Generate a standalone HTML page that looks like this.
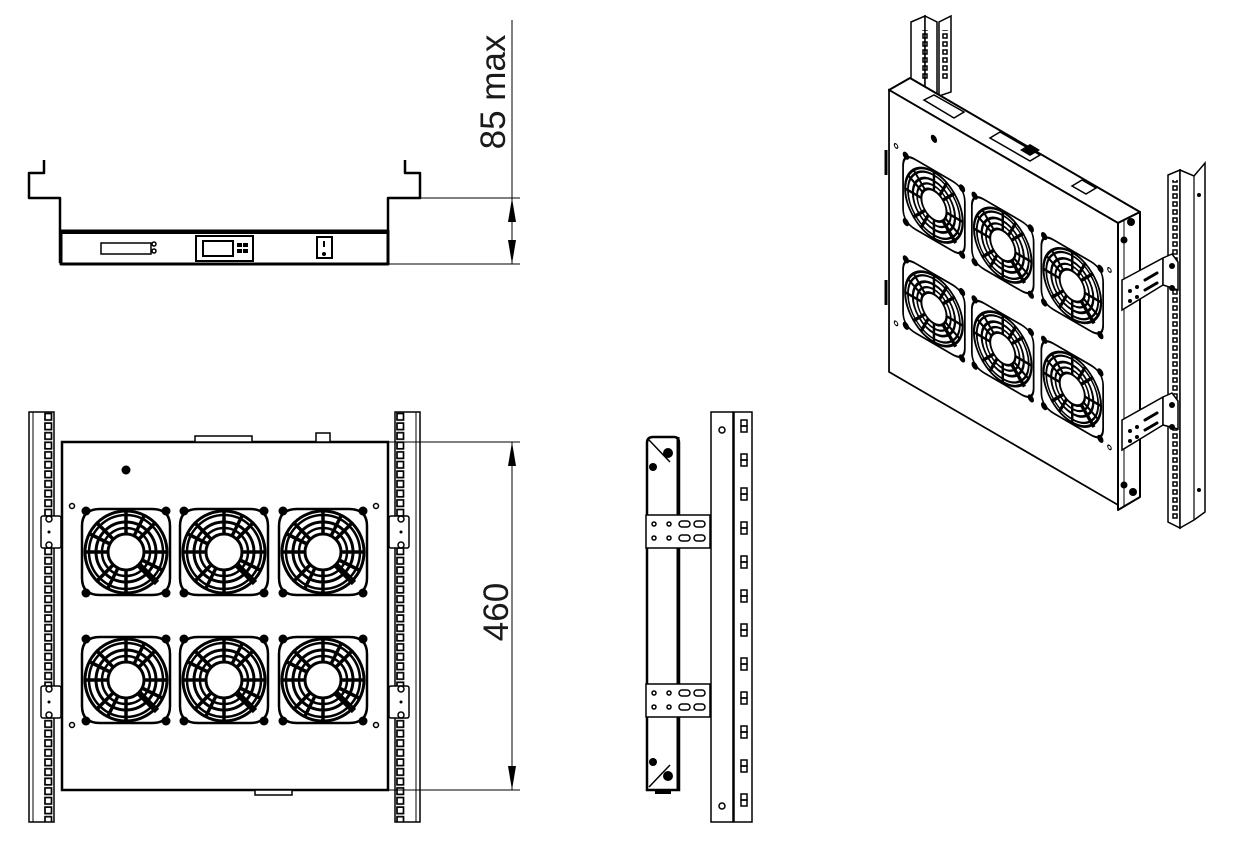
<!DOCTYPE html>
<html><head><meta charset="utf-8"><style>
html,body{margin:0;padding:0;background:#fff;}
svg{display:block;}
text{font-family:"Liberation Sans",sans-serif;fill:#1a1a1a;}
</style></head><body>
<svg width="1236" height="860" viewBox="0 0 1236 860" xmlns="http://www.w3.org/2000/svg">
<defs>
  <pattern id="holesL" x="44" y="412" width="10" height="9.6" patternUnits="userSpaceOnUse">
    <rect x="1" y="1.5" width="6.5" height="6.5" fill="none" stroke="#000" stroke-width="1.7"/>
  </pattern>
  <pattern id="holesR" x="396" y="412" width="10" height="9.6" patternUnits="userSpaceOnUse">
    <rect x="1" y="1.5" width="6.5" height="6.5" fill="none" stroke="#000" stroke-width="1.7"/>
  </pattern>
  <pattern id="holesS" x="739" y="412" width="10" height="34" patternUnits="userSpaceOnUse">
    <rect x="2" y="8" width="6" height="6" fill="none" stroke="#000" stroke-width="1.5"/>
    <rect x="2" y="14" width="6" height="6" fill="none" stroke="#000" stroke-width="1.5"/>
  </pattern>
  <pattern id="holesI" x="0" y="0" width="10" height="8" patternUnits="userSpaceOnUse">
    <rect x="3" y="2" width="4" height="4" fill="none" stroke="#000" stroke-width="1.5"/>
  </pattern>
  <g id="fan">
    <path d="M-26,-43 L26,-43 Q44,-43 44,-26 L44,26 Q44,43 26,43 L-26,43 Q-44,43 -44,26 L-44,-26 Q-44,-43 -26,-43 Z" fill="#fff" stroke="#000" stroke-width="2.5"/>
    <circle r="41" fill="none" stroke="#000" stroke-width="3"/>
    <circle r="37" fill="none" stroke="#000" stroke-width="2.5"/>
    <circle r="30" fill="none" stroke="#000" stroke-width="3"/>
    <circle r="24" fill="none" stroke="#000" stroke-width="2.5"/>
    <g stroke="#000" stroke-width="3.5">
      <line x1="0" y1="-42" x2="0" y2="-18"/><line x1="0" y1="42" x2="0" y2="18"/>
      <line x1="-42" y1="0" x2="-18" y2="0"/><line x1="42" y1="0" x2="18" y2="0"/>
      <line x1="-30" y1="-30" x2="-13" y2="-13"/><line x1="30" y1="-30" x2="13" y2="-13"/>
      <line x1="-30" y1="30" x2="-13" y2="13"/>
      <line x1="-36" y1="-18" x2="-16" y2="-8"/><line x1="36" y1="18" x2="16" y2="8"/>
      <line x1="-18" y1="36" x2="-8" y2="16"/><line x1="18" y1="-36" x2="8" y2="-16"/>
    </g>
    <line x1="13" y1="13" x2="31" y2="31" stroke="#000" stroke-width="6"/>
    <circle r="18" fill="#fff" stroke="#000" stroke-width="3"/>
    <circle cx="-40" cy="-41" r="4.5" fill="#000"/><circle cx="40" cy="-41" r="4.5" fill="#000"/>
    <circle cx="-40" cy="41" r="4.5" fill="#000"/><circle cx="40" cy="41" r="4.5" fill="#000"/>
  </g>
  <g id="body">
    <rect x="62" y="442" width="326" height="348" fill="#fff" stroke="#000" stroke-width="2.5"/>
    <use href="#fan" x="126" y="552"/><use href="#fan" x="224" y="552"/><use href="#fan" x="323" y="552"/>
    <use href="#fan" x="126" y="680"/><use href="#fan" x="224" y="680"/><use href="#fan" x="323" y="680"/>
    <circle cx="126" cy="470" r="4.5" fill="#000"/>
    <g fill="none" stroke="#000" stroke-width="1.5">
      <circle cx="72" cy="506" r="2.5"/><circle cx="376" cy="506" r="2.5"/>
      <circle cx="72" cy="725" r="2.5"/><circle cx="376" cy="725" r="2.5"/>
    </g>
  </g>
</defs>

<!-- ===== TOP VIEW ===== -->
<g fill="none" stroke="#000" stroke-width="2.5" stroke-linejoin="round">
  <path d="M44,160 V173 H29 V198 H60 V263"/>
  <path d="M405,160 V173 H420 V198 H388 V263"/>
  <rect x="61" y="231" width="327" height="33" fill="#fff" stroke-width="3"/>
  <line x1="61" y1="233" x2="388" y2="233" stroke-width="2"/>
</g>
<g fill="none" stroke="#000" stroke-width="1.5">
  <rect x="101" y="243" width="50" height="11"/>
  <circle cx="154" cy="244" r="2"/><circle cx="154" cy="251" r="2"/>
  <rect x="196" y="236" width="57" height="25" stroke-width="2"/>
  <rect x="203" y="241" width="30" height="15" stroke-width="2"/>
  <rect x="317" y="237" width="15" height="21" stroke-width="2"/>
</g>
<g fill="#000">
  <rect x="237" y="243" width="5" height="4"/><rect x="243" y="243" width="5" height="4"/>
  <rect x="237" y="249" width="5" height="4"/><rect x="243" y="249" width="5" height="4"/>
  <circle cx="324" cy="254" r="2"/><rect x="323" y="241" width="2" height="6"/>
</g>
<g stroke="#000" stroke-width="1">
  <line x1="420" y1="198" x2="520" y2="198"/>
  <line x1="388" y1="264" x2="520" y2="264"/>
  <line x1="512" y1="20" x2="512" y2="264"/>
</g>
<path d="M512,198 L508,222 L516,222 Z M512,264 L508,240 L516,240 Z" fill="#000"/>
<text transform="translate(505,92) rotate(-90)" font-size="35" text-anchor="middle">85 max</text>

<!-- ===== FRONT VIEW ===== -->
<rect x="29" y="412" width="25" height="410" fill="#fff" stroke="#000" stroke-width="1.5"/>
<line x1="33" y1="412" x2="33" y2="822" stroke="#000" stroke-width="1"/>
<rect x="44" y="412" width="9" height="410" fill="url(#holesL)"/>
<rect x="395" y="412" width="25" height="410" fill="#fff" stroke="#000" stroke-width="1.5"/>
<line x1="416" y1="412" x2="416" y2="822" stroke="#000" stroke-width="1"/>
<rect x="396" y="412" width="9" height="410" fill="url(#holesR)"/>
<use href="#body"/>
<g fill="#fff" stroke="#000" stroke-width="1.5">
  <rect x="41" y="516" width="20" height="32" rx="2"/><rect x="41" y="686" width="20" height="32" rx="2"/>
  <rect x="389" y="516" width="20" height="32" rx="2"/><rect x="389" y="686" width="20" height="32" rx="2"/>
  <rect x="195" y="436" width="57" height="6"/><rect x="316" y="433" width="14" height="9"/>
  <rect x="255" y="790" width="37" height="5"/>
</g>
<g fill="none" stroke="#000" stroke-width="1.5">
  <circle cx="49" cy="519" r="3"/><circle cx="49" cy="545" r="3"/><circle cx="49" cy="689" r="3"/><circle cx="49" cy="715" r="3"/>
  <circle cx="401" cy="519" r="3"/><circle cx="401" cy="545" r="3"/><circle cx="401" cy="689" r="3"/><circle cx="401" cy="715" r="3"/>
</g>
<g fill="#000"><circle cx="49" cy="532" r="1.5"/><circle cx="49" cy="702" r="1.5"/><circle cx="401" cy="532" r="1.5"/><circle cx="401" cy="702" r="1.5"/></g>
<g stroke="#000" stroke-width="1">
  <line x1="388" y1="442" x2="520" y2="442"/>
  <line x1="388" y1="790" x2="520" y2="790"/>
  <line x1="512" y1="442" x2="512" y2="790"/>
</g>
<path d="M512,442 L508,466 L516,466 Z M512,790 L508,766 L516,766 Z" fill="#000"/>
<text transform="translate(508,612) rotate(-90)" font-size="35" text-anchor="middle">460</text>

<!-- ===== SIDE VIEW ===== -->
<g fill="#fff" stroke="#000" stroke-width="2.5">
  <path d="M647,790 V443 Q647,437 653,437 H674 Q679,437 679,443 V790 Z"/>
</g>
<line x1="678" y1="437" x2="678" y2="790" stroke="#000" stroke-width="3"/>
<g stroke="#000" stroke-width="1.5" fill="none">
  <line x1="649" y1="440" x2="670" y2="462"/><line x1="649" y1="787" x2="670" y2="765"/>
</g>
<g fill="#000">
  <circle cx="668" cy="453" r="5"/><circle cx="653" cy="467" r="4"/>
  <circle cx="668" cy="776" r="5"/><circle cx="653" cy="762" r="4"/>
  <rect x="655" y="790" width="16" height="4"/>
</g>
<rect x="711" y="412" width="22" height="410" fill="#fff" stroke="#000" stroke-width="1.5"/>
<rect x="734" y="412" width="18" height="410" fill="#fff" stroke="#000" stroke-width="1.5"/>
<rect x="739" y="412" width="10" height="410" fill="url(#holesS)"/>
<g fill="none" stroke="#000" stroke-width="1.5"><circle cx="722" cy="430" r="3"/><circle cx="722" cy="806" r="3"/></g>
<g fill="#fff" stroke="#000" stroke-width="1.5">
  <rect x="646" y="515" width="64" height="33"/><rect x="646" y="684" width="64" height="33"/>
</g>
<g fill="none" stroke="#000" stroke-width="1.5">
  <circle cx="654" cy="524" r="2"/><circle cx="669" cy="524" r="2"/><rect x="679" y="521" width="11" height="6" rx="3"/><rect x="694" y="521" width="11" height="6" rx="3"/>
  <circle cx="654" cy="538" r="2"/><circle cx="669" cy="538" r="2"/><rect x="679" y="535" width="11" height="6" rx="3"/><rect x="694" y="535" width="11" height="6" rx="3"/>
  <circle cx="654" cy="693" r="2"/><circle cx="669" cy="693" r="2"/><rect x="679" y="690" width="11" height="6" rx="3"/><rect x="694" y="690" width="11" height="6" rx="3"/>
  <circle cx="654" cy="707" r="2"/><circle cx="669" cy="707" r="2"/><rect x="679" y="704" width="11" height="6" rx="3"/><rect x="694" y="704" width="11" height="6" rx="3"/>
</g>

<!-- ===== ISO VIEW ===== -->
<g fill="#fff" stroke="#000" stroke-width="1.5">
  <path d="M911,22 L925,16 V100 L911,106 Z"/>
  <path d="M925,16 L937,22 V96 L925,100 Z"/>
  <path d="M939,22 L951,16 V92 L939,96 Z"/>
</g>
<rect x="920" y="30" width="8" height="50" fill="url(#holesI)"/>
<rect x="942" y="30" width="8" height="50" fill="url(#holesI)"/>
<g fill="#fff" stroke="#000" stroke-width="1.5">
  <path d="M1168,175 L1180,170 V528 L1168,522 Z"/>
  <path d="M1180,170 L1194,176 L1205,163 V512 L1194,520 L1180,528 Z"/>
</g>
<rect x="1169" y="180" width="10" height="340" fill="url(#holesI)"/>
<line x1="1194" y1="176" x2="1194" y2="520" stroke="#000" stroke-width="1.2"/>
<circle cx="1199" cy="195" r="2" fill="#000"/><circle cx="1199" cy="490" r="2" fill="#000"/>
<g stroke="#000" stroke-width="2" stroke-linejoin="round">
  <path d="M889,90 L910,78 L1140,212 L1118,223 Z" fill="#fff"/>
  <path d="M1118,223 L1140,212 V497 L1118,510 Z" fill="#fff"/>
</g>
<line x1="1124" y1="220" x2="1124" y2="506" stroke="#000" stroke-width="1"/>
<g fill="#000"><circle cx="1131" cy="222" r="4"/><circle cx="1124" cy="240" r="3.5"/><circle cx="1124" cy="485" r="3.5"/><circle cx="1133" cy="492" r="4"/></g>
<g fill="none" stroke="#000" stroke-width="1.5">
  <path d="M924,100 L934,95 L964,112 L954,118 Z"/>
  <path d="M990,138 L1000,132 L1040,155 L1030,161 Z"/>
  <path d="M1072,186 L1082,180 L1096,188 L1086,194 Z"/>
</g>
<path d="M1020,150 L1030,144 L1040,150 L1030,156 Z" fill="#000"/>
<g transform="matrix(0.702,0.408,0,0.81,845.5,-293.3)">
  <use href="#body"/>
</g>
<line x1="886" y1="150" x2="886" y2="175" stroke="#000" stroke-width="3"/>
<line x1="886" y1="280" x2="886" y2="305" stroke="#000" stroke-width="3"/>
<g fill="#fff" stroke="#000" stroke-width="1.5">
  <path d="M1122,280 L1163,258 L1163,285 L1122,310 Z"/>
  <path d="M1163,258 L1172,254 L1178,262 V290 L1163,285 Z"/>
  <path d="M1122,420 L1163,397 L1163,425 L1122,450 Z"/>
  <path d="M1163,397 L1172,393 L1178,401 V429 L1163,425 Z"/>
</g>
<g fill="#000">
  <circle cx="1130" cy="291" r="2"/><circle cx="1137" cy="287" r="2"/><circle cx="1130" cy="301" r="2"/><circle cx="1137" cy="297" r="2"/>
  <circle cx="1130" cy="431" r="2"/><circle cx="1137" cy="427" r="2"/><circle cx="1130" cy="441" r="2"/><circle cx="1137" cy="437" r="2"/>
  <circle cx="1172" cy="266" r="3"/><circle cx="1172" cy="288" r="3"/><circle cx="1172" cy="405" r="3"/><circle cx="1172" cy="427" r="3"/>
</g>
<g stroke="#000" stroke-width="3" stroke-linecap="round">
  <line x1="1145" y1="280" x2="1157" y2="273"/><line x1="1145" y1="290" x2="1157" y2="283"/>
  <line x1="1145" y1="420" x2="1157" y2="413"/><line x1="1145" y1="430" x2="1157" y2="423"/>
</g>
</svg>
</body></html>
